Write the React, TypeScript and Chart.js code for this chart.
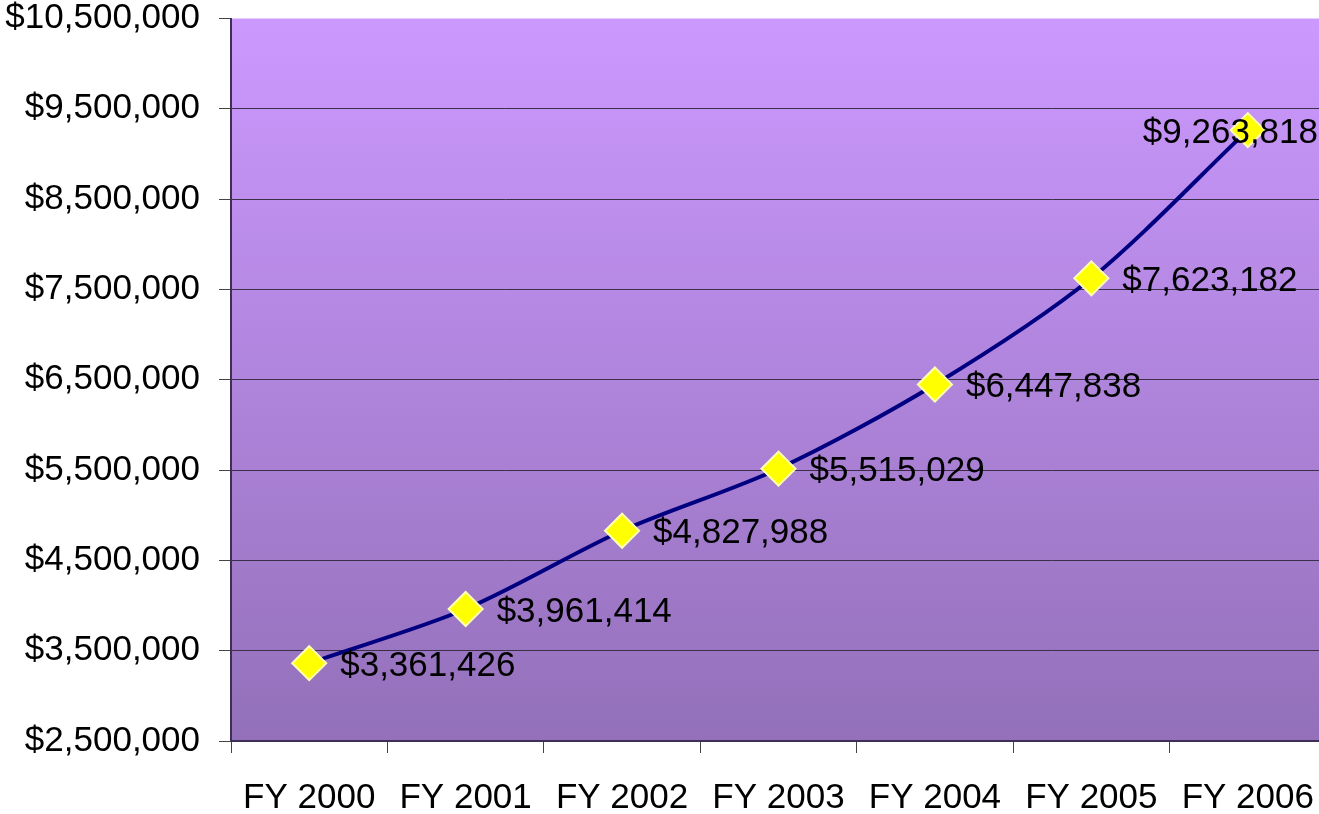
import React, { useEffect, useRef } from "react";
import { Chart, registerables } from "chart.js";

Chart.register(...registerables);

const categories = ["FY 2000", "FY 2001", "FY 2002", "FY 2003", "FY 2004", "FY 2005", "FY 2006"];
const revenue = [3361426, 3961414, 4827988, 5515029, 6447838, 7623182, 9263818];
const yMin = 2500000;
const yMax = 10500000;
const yStep = 1000000;

const FONT = "'Liberation Sans', Arial, sans-serif";

const fmt = (v: number) => "$" + Math.round(v).toLocaleString("en-US");

const bgPlugin = {
  id: "plotBg",
  beforeDraw(chart: any) {
    const { ctx, chartArea } = chart;
    if (!chartArea) return;
    const g = ctx.createLinearGradient(0, chartArea.top, 0, chartArea.bottom);
    g.addColorStop(0, "#CC99FF");
    g.addColorStop(1, "#9370B9");
    ctx.save();
    ctx.fillStyle = g;
    ctx.fillRect(chartArea.left, chartArea.top, chartArea.right - chartArea.left, chartArea.bottom - chartArea.top);
    ctx.restore();
  },
};

const labelPlugin = {
  id: "valueLabels",
  afterDatasetsDraw(chart: any) {
    const { ctx, chartArea } = chart;
    const meta = chart.getDatasetMeta(0);
    ctx.save();
    ctx.font = `35px ${FONT}`;
    ctx.fillStyle = "#000";
    ctx.textBaseline = "middle";
    ctx.textAlign = "left";
    meta.data.forEach((pt: any, i: number) => {
      const text = fmt(revenue[i]);
      const w = ctx.measureText(text).width;
      let x = pt.x + 31;
      if (x + w > chartArea.right - 8) x = chartArea.right - 8 - w;
      ctx.fillText(text, x, pt.y + 3);
    });
    ctx.restore();
  },
};

export default function App() {
  const ref = useRef<HTMLCanvasElement | null>(null);

  useEffect(() => {
    document.body.style.margin = "0";
    document.body.style.overflow = "hidden";
    const chart = new Chart(ref.current as HTMLCanvasElement, {
      type: "line",
      data: {
        labels: categories,
        datasets: [
          {
            data: revenue,
            borderColor: "#000080",
            borderWidth: 4,
            tension: 0.3,
            pointStyle: "rectRot",
            pointRadius: 17,
            pointBorderWidth: 2,
            pointBackgroundColor: "#FFFF00",
            pointBorderColor: "#FFFFB0",
            fill: false,
            clip: false,
          },
        ],
      },
      options: {
        responsive: false,
        animation: false,
        layout: { autoPadding: false, padding: { top: 10, right: 0, left: 0, bottom: 0 } },
        plugins: {
          legend: { display: false },
          tooltip: { enabled: false },
        },
        scales: {
          x: {
            offset: true,
            grid: {
              offset: true,
              drawOnChartArea: false,
              drawTicks: true,
              tickLength: 12,
              tickColor: "#444",
            },
            border: { color: "#3d2f55", width: 2 },
            ticks: {
              color: "#000",
              font: { family: FONT, size: 35, lineHeight: 2.6 },
              padding: 0,
              maxRotation: 0,
              autoSkip: false,
            },
            afterFit: (s: any) => {
              s.height = 73;
            },
          },
          y: {
            min: yMin,
            max: yMax,
            grid: {
              color: (c: any) => (c.tick && c.tick.value === yMax ? "rgba(0,0,0,0)" : "#3a2e48"),
              tickColor: "#444",
              tickLength: 12,
              lineWidth: 1,
            },
            border: { color: "#3d2f55", width: 2 },
            ticks: {
              stepSize: yStep,
              color: "#000",
              font: { family: FONT, size: 35, lineHeight: 0.2 },
              padding: 19,
              callback: (v: any) => fmt(Number(v)),
            },
            afterFit: (s: any) => {
              s.width = 231;
            },
          },
        },
      },
      plugins: [bgPlugin, labelPlugin],
    });
    return () => chart.destroy();
  }, []);

  return (
    <div style={{ position: "fixed", left: 0, top: 0, width: 1319, height: 814, overflow: "hidden", background: "#fff" }}>
      <canvas ref={ref} width={1326} height={818} style={{ display: "block", marginTop: -4 }} />
    </div>
  );
}
